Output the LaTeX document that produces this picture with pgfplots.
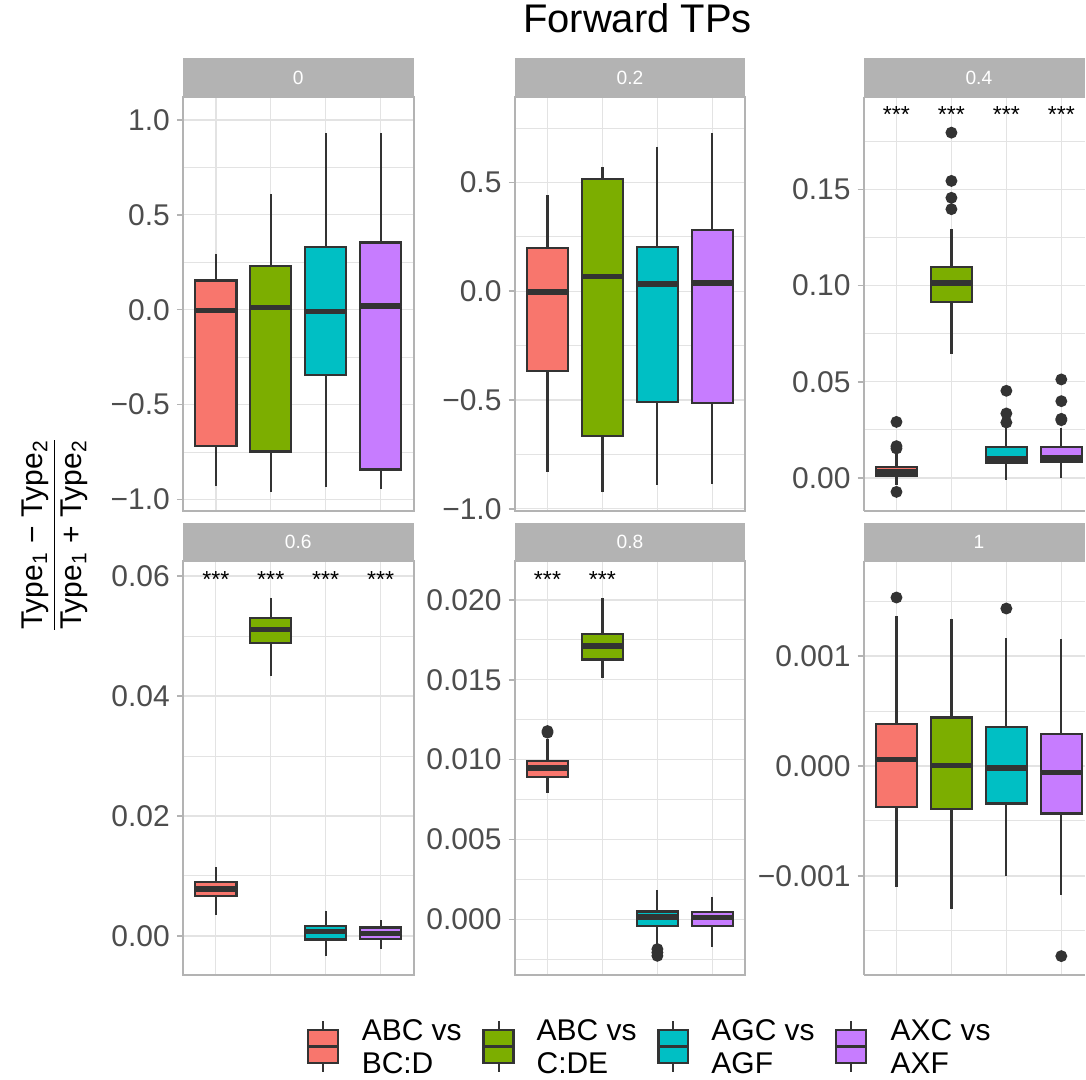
\documentclass[border=0pt]{standalone}
\usepackage{amsmath}
\usepackage{fontspec}
\setmainfont{Liberation Sans}
\usepackage{pgfplots}
\pgfplotsset{compat=1.18}
\usepgfplotslibrary{statistics}
\definecolor{cred}{HTML}{F8766D}
\definecolor{cgreen}{HTML}{7CAE00}
\definecolor{ccyan}{HTML}{00BFC4}
\definecolor{cpurple}{HTML}{C77CFF}
\definecolor{cdark}{HTML}{333333}
\definecolor{cgrey70}{HTML}{B3B3B3}
\definecolor{cgrid}{HTML}{E3E3E3}
\definecolor{cgrey30}{HTML}{4D4D4D}
\pgfplotsset{
  panel/.style={scale only axis, width=115.5pt, height=207pt, anchor=north west,
    xmin=0.4, xmax=4.6, xtick={1,2,3,4}, xticklabels={},
    scaled x ticks=false, scaled y ticks=false,
    xmajorgrids, ymajorgrids, yminorgrids,
    major grid style={cgrid, line width=0.7pt},
    minor grid style={cgrid, line width=0.45pt},
    axis line style={cgrey70, line width=1pt},
    xtick style={draw=none},
    ytick style={cgrey70, line width=0.8pt}, ytick pos=left,
    tick align=outside, major tick length=3pt, minor tick length=0pt,
    yticklabel style={font=\fontsize{15}{18}\selectfont, text=cgrey30},
    boxplot/draw direction=y},
  cut/.style={width=110.85pt, xmax=4.431, axis x line*=box, axis y line*=left},
  bxs/.style={draw=cdark, line width=1.1pt, solid,
    mark=*, mark size=2.4pt, mark options={fill=cdark, draw=cdark},
    boxplot/box extend=0.75, boxplot/whisker extend=0,
    boxplot/every median/.style={line width=2.8pt}}}
\tikzset{sig/.style={font=\fontsize{11.6}{13}\selectfont, anchor=base, yshift=-6.7pt, inner sep=0pt}}
% position, fill, lower whisker, lower quartile, median, upper quartile, upper whisker, outliers
\newcommand\bx[8]{\addplot[bxs, fill=#2, boxplot prepared={draw position=#1,
  lower whisker=#3, lower quartile=#4, median=#5, upper quartile=#6, upper whisker=#7}]
  coordinates {#8};}
\begin{document}
\begin{tikzpicture}
\path (0,0) rectangle (543pt,-540pt);
%% 0
\begin{axis}[panel, at={(91.5pt,-48.5pt)}, ymin=-1.058, ymax=1.121,
    ytick={-1,-0.5,0,0.5,1}, yticklabels={−1.0,−0.5,0.0,0.5,1.0},
    minor ytick={-0.75,-0.25,0.25,0.75}]
  \bx{1}{cred}{-0.930}{-0.718}{-0.004}{0.154}{0.295}{}
  \bx{2}{cgreen}{-0.961}{-0.747}{0.012}{0.232}{0.610}{}
  \bx{3}{ccyan}{-0.935}{-0.346}{-0.009}{0.332}{0.930}{}
  \bx{4}{cpurple}{-0.944}{-0.842}{0.018}{0.354}{0.930}{}
\end{axis}
%% 0.2
\begin{axis}[panel, at={(257.5pt,-48.5pt)}, ymin=-1.008, ymax=0.893,
    ytick={-1,-0.5,0,0.5}, yticklabels={−1.0,−0.5,0.0,0.5},
    minor ytick={-0.75,-0.25,0.25,0.75}]
  \bx{1}{cred}{-0.832}{-0.368}{-0.003}{0.197}{0.442}{}
  \bx{2}{cgreen}{-0.924}{-0.667}{0.067}{0.517}{0.569}{}
  \bx{3}{ccyan}{-0.890}{-0.511}{0.034}{0.203}{0.664}{}
  \bx{4}{cpurple}{-0.884}{-0.514}{0.037}{0.281}{0.725}{}
\end{axis}
%% 0.4
\begin{axis}[panel, cut, at={(432.15pt,-48.5pt)}, ymin=-0.0170, ymax=0.1982,
    ytick={0,0.05,0.1,0.15}, yticklabels={0.00,0.05,0.10,0.15},
    minor ytick={0.025,0.075,0.125,0.175}]
  \bx{1}{cred}{-0.0035}{0.0009}{0.0029}{0.0057}{0.0130}{(1,0.0291) (1,0.0165) (1,0.0153) (1,-0.0073)}
  \bx{2}{cgreen}{0.0647}{0.0914}{0.1013}{0.1096}{0.1295}{(2,0.1796) (2,0.1545) (2,0.1457) (2,0.1398)}
  \bx{3}{ccyan}{-0.0009}{0.0078}{0.0099}{0.0161}{0.0260}{(3,0.0453) (3,0.0335) (3,0.0288)}
  \bx{4}{cpurple}{0.0000}{0.0081}{0.0102}{0.0161}{0.0260}{(4,0.0512) (4,0.0399) (4,0.0307) (4,0.0300)}
  \node[sig] at (axis cs:1,0.1916) {***};
  \node[sig] at (axis cs:2,0.1916) {***};
  \node[sig] at (axis cs:3,0.1916) {***};
  \node[sig] at (axis cs:4,0.1916) {***};
\end{axis}
%% 0.6
\begin{axis}[panel, at={(91.5pt,-280.85pt)}, ymin=-0.0065, ymax=0.0625,
    ytick={0,0.02,0.04,0.06}, yticklabels={0.00,0.02,0.04,0.06},
    minor ytick={0.01,0.03,0.05}]
  \bx{1}{cred}{0.0035}{0.0066}{0.0078}{0.0090}{0.0115}{}
  \bx{2}{cgreen}{0.0433}{0.0489}{0.0511}{0.0530}{0.0564}{}
  \bx{3}{ccyan}{-0.0034}{-0.0006}{0.0007}{0.0016}{0.0042}{}
  \bx{4}{cpurple}{-0.0022}{-0.0005}{0.0004}{0.0014}{0.0026}{}
  \node[sig] at (axis cs:1,0.0603) {***};
  \node[sig] at (axis cs:2,0.0603) {***};
  \node[sig] at (axis cs:3,0.0603) {***};
  \node[sig] at (axis cs:4,0.0603) {***};
\end{axis}
%% 0.8
\begin{axis}[panel, at={(257.5pt,-280.85pt)}, ymin=-0.003458, ymax=0.022417,
    ytick={0,0.005,0.01,0.015,0.02}, yticklabels={0.000,0.005,0.010,0.015,0.020},
    minor ytick={-0.0025,0.0025,0.0075,0.0125,0.0175}]
  \bx{1}{cred}{0.00794}{0.00892}{0.00948}{0.00994}{0.01127}{(1,0.01179) (1,0.01169)}
  \bx{2}{cgreen}{0.01510}{0.01627}{0.01710}{0.01788}{0.02013}{}
  \bx{3}{ccyan}{-0.00165}{-0.00042}{0.00017}{0.00050}{0.00183}{(3,-0.00185) (3,-0.00206) (3,-0.00227)}
  \bx{4}{cpurple}{-0.00169}{-0.00040}{0.00012}{0.00048}{0.00144}{}
  \node[sig] at (axis cs:1,0.02158) {***};
  \node[sig] at (axis cs:2,0.02158) {***};
\end{axis}
%% 1
\begin{axis}[panel, cut, at={(432.15pt,-280.85pt)}, ymin=-0.0019, ymax=0.0018636,
    ytick={-0.001,0,0.001}, yticklabels={−0.001,0.000,0.001},
    minor ytick={-0.0015,-0.0005,0.0005,0.0015}]
  \bx{1}{cred}{-0.001100}{-0.000370}{0.000058}{0.000385}{0.001364}{(1,0.001533)}
  \bx{2}{cgreen}{-0.001297}{-0.000394}{0.000006}{0.000442}{0.001342}{}
  \bx{3}{ccyan}{-0.001000}{-0.000342}{-0.000018}{0.000352}{0.001164}{(3,0.001433)}
  \bx{4}{cpurple}{-0.001173}{-0.000433}{-0.000061}{0.000288}{0.001152}{(4,-0.00173)}
\end{axis}
%% strips, titles and legend, in pixel units
\begin{scope}[x=0.5pt, y=-0.5pt]
  \fill[cgrey70] (183,58) rectangle (414,97);
  \fill[cgrey70] (515,58) rectangle (746,97);
  \fill[cgrey70] (864.3,58) rectangle (1086,97);
  \fill[cgrey70] (183,523) rectangle (414,561.7);
  \fill[cgrey70] (515,523) rectangle (746,561.7);
  \fill[cgrey70] (864.3,523) rectangle (1086,561.7);
  \node[text=white, font=\fontsize{9.6}{11}\selectfont] at (298.5,77.5) {0};
  \node[text=white, font=\fontsize{9.6}{11}\selectfont] at (630.5,77.5) {0.2};
  \node[text=white, font=\fontsize{9.6}{11}\selectfont] at (979.8,77.5) {0.4};
  \node[text=white, font=\fontsize{9.6}{11}\selectfont] at (298.5,542.3) {0.6};
  \node[text=white, font=\fontsize{9.6}{11}\selectfont] at (630.5,542.3) {0.8};
  \node[text=white, font=\fontsize{9.6}{11}\selectfont] at (979.8,542.3) {1};
  \node[anchor=base, inner sep=0pt, text height=0.73em, text depth=0.2em,
    font=\fontsize{20}{24}\selectfont] at (638,32.5) {Forward TPs};
  \node[rotate=90, inner sep=0pt, font=\fontsize{15}{18}\selectfont] at (55,535.5)
    {$\dfrac{\mbox{Type\textsubscript{1} − Type\textsubscript{2}}}{\mbox{Type\textsubscript{1} + Type\textsubscript{2}}}$};
  \foreach \xl/\col in {308.3/cred, 484/cgreen, 659/ccyan, 837/cpurple} {
    \draw[cdark, line width=1pt] (\xl+15,1022) -- (\xl+15,1073);
    \filldraw[fill=\col, draw=cdark, line width=1.1pt] (\xl,1031) rectangle ++(30,33);
    \draw[cdark, line width=1.1pt] (\xl,1047.5) -- ++(30,0);}
  \node[anchor=base west, inner sep=0pt, font=\fontsize{15}{18}\selectfont] at (361.7,1041) {ABC vs};
  \node[anchor=base west, inner sep=0pt, font=\fontsize{15}{18}\selectfont] at (361.7,1074) {BC:D};
  \node[anchor=base west, inner sep=0pt, font=\fontsize{15}{18}\selectfont] at (536.7,1041) {ABC vs};
  \node[anchor=base west, inner sep=0pt, font=\fontsize{15}{18}\selectfont] at (536.7,1074) {C:DE};
  \node[anchor=base west, inner sep=0pt, font=\fontsize{15}{18}\selectfont] at (711.7,1041) {AGC vs};
  \node[anchor=base west, inner sep=0pt, font=\fontsize{15}{18}\selectfont] at (711.7,1074) {AGF};
  \node[anchor=base west, inner sep=0pt, font=\fontsize{15}{18}\selectfont] at (891,1041) {AXC vs};
  \node[anchor=base west, inner sep=0pt, font=\fontsize{15}{18}\selectfont] at (891,1074) {AXF};
\end{scope}
\end{tikzpicture}
\end{document}
